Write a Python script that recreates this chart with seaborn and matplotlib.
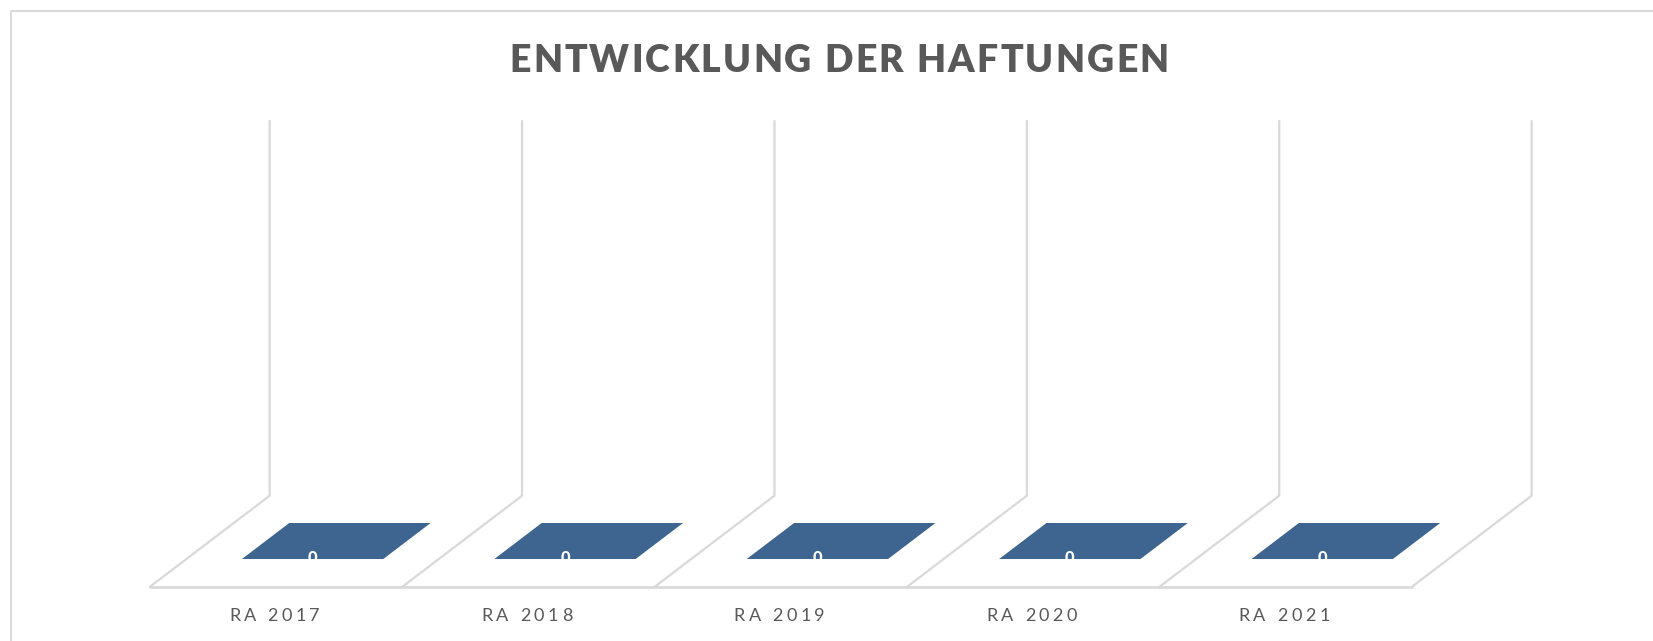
import seaborn as sns
import matplotlib.pyplot as plt
from matplotlib.font_manager import findfont, get_font
from matplotlib.lines import Line2D
from matplotlib.patches import Polygon
from matplotlib.text import Text
from matplotlib.transforms import IdentityTransform

kategorien = ["RA 2017", "RA 2018", "RA 2019", "RA 2020", "RA 2021"]
haftungen = [0, 0, 0, 0, 0]
titel = "ENTWICKLUNG DER HAFTUNGEN"

BLAU = "#3E6490"
GRAU = "#595959"
LINIE = "#D9D9D9"

# schraege Tiefe des 3D-Bodens, in Datenkoordinaten
TIEFE_X = 0.474
TIEFE_Y = 0.1954
BALKEN_VORN = 0.304
BALKEN_HINTEN = 0.70


class SpacedText(Text):
    # matplotlib kennt keine Laufweite, also Zeichen fuer Zeichen zeichnen
    spacing = 0

    def draw(self, renderer):
        if not self.get_visible() or not self.get_text():
            return
        prop = self.get_fontproperties()
        font = get_font(findfont(prop))
        font.set_size(prop.get_size_in_points(), self.figure.dpi)
        zeichen = self.get_text()
        breiten = [font.load_char(ord(c)).linearHoriAdvance / 65536 + self.spacing for c in zeichen]
        x, y = self.get_transform().transform(self.get_unitless_position())
        x -= sum(breiten) / 2
        for c, b in zip(zeichen, breiten):
            t = Text(x, y, c, color=self.get_color(), fontproperties=prop, ha="left",
                     va=self.get_va(), transform=IdentityTransform())
            t.set_figure(self.figure)
            t.draw(renderer)
            x += b


sns.set_theme(style="white")
plt.rcParams["font.family"] = ["Lato", "DejaVu Sans"]

B, H = 1653, 641
fig = plt.figure(figsize=(B / 100, H / 100), dpi=100, facecolor="white")
ax = fig.add_axes([150 / B, 1 - 586.7 / H, (1412 - 150) / B, (586.7 - 121) / H])


def proj(x, y, t):
    return x + t * TIEFE_X, y + t * TIEFE_Y


sns.barplot(x=kategorien, y=haftungen, color=BLAU, width=0.56, saturation=1, ax=ax)
ax.set_xlim(-0.5, len(kategorien) - 0.5)
ax.set_ylim(0, 1)
ax.set_yticks([])
ax.set_xlabel("")
ax.set_ylabel("")
sns.despine(ax=ax, left=True, bottom=True)
ax.patch.set_alpha(0)
ax.tick_params(axis="x", length=0, pad=15, labelsize=13, labelcolor=GRAU)
for lab in ax.get_xticklabels():
    lab.__class__ = SpacedText
    lab.spacing = 3.5

# Boden und Rueckwand
for i in range(len(kategorien) + 1):
    x0 = i - 0.5
    xs = [x0, x0 + TIEFE_X, x0 + TIEFE_X]
    ys = [0, TIEFE_Y, 1]
    ax.plot(xs, ys, color=LINIE, lw=1.6, clip_on=False, zorder=1)
ax.plot([-0.5, len(kategorien) - 0.5], [0, 0], color=LINIE, lw=1.9, clip_on=False, zorder=1)

# Balken der Hoehe 0: nur die Deckflaeche ist zu sehen
for balken, wert in zip(ax.patches, haftungen):
    x, w = balken.get_x(), balken.get_width()
    ecken = [proj(x, wert, BALKEN_VORN), proj(x + w, wert, BALKEN_VORN),
             proj(x + w, wert, BALKEN_HINTEN), proj(x, wert, BALKEN_HINTEN)]
    ax.add_patch(Polygon(ecken, closed=True, facecolor=BLAU, edgecolor="none", zorder=2,
                         clip_on=False))
    lx, ly = proj(x + w / 2, wert, BALKEN_VORN)
    ax.text(lx, ly + 0.002, str(wert), color="white", fontsize=12, fontweight="black",
            ha="center", va="center", zorder=3)

kopf = SpacedText(840.2 / B, 1 - 61 / H, titel, ha="center", va="center", fontsize=27,
                  fontweight="heavy", color=GRAU, transform=fig.transFigure)
kopf.spacing = 2.2
fig.add_artist(kopf)

# Rahmen des Diagramms, unten und rechts abgeschnitten
fig.add_artist(Line2D([10.5 / B, 10.5 / B, 1], [0, 1 - 10.5 / H, 1 - 10.5 / H],
                      color=LINIE, lw=1.4))

fig.savefig("out.png", dpi=100, facecolor="white")
